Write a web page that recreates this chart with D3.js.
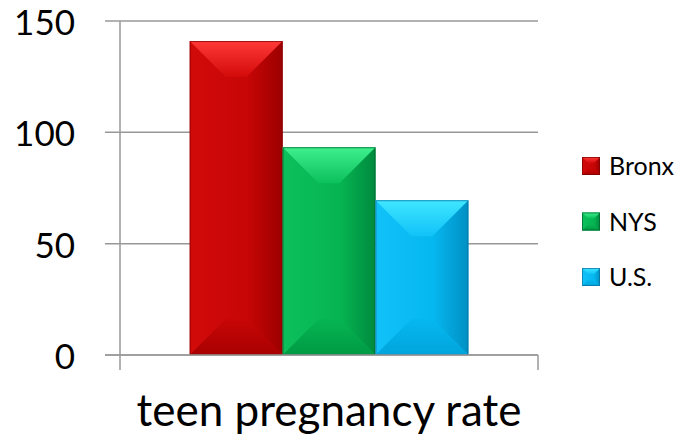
<!DOCTYPE html>
<html><head><meta charset="utf-8">
<script src="https://cdn.jsdelivr.net/npm/d3@7"></script>
<style>html,body{margin:0;padding:0;background:#fff}svg{display:block}</style>
</head><body>
<svg id="c" width="688" height="440"></svg>
<script>
const categories = ["teen pregnancy rate"];
const seriesNames = ["Bronx", "NYS", "U.S."];
const seriesValues = [141, 93.3, 69.5];
const yTicks = [0, 50, 100, 150];

const palette = {
  "Bronx": {main:"#c80606", light:"#ff3838", side:"#d20a0a", dark:"#a80000", edge:"#7a0000", right:"#9c0000"},
  "NYS":   {main:"#06b552", light:"#3ef08e", side:"#0cc05c", dark:"#009a44", edge:"#00602c", right:"#008a3e"},
  "U.S.":  {main:"#06b8f0", light:"#40e6ff", side:"#10c2f8", dark:"#00a4dc", edge:"#0a6e9e", right:"#0090c4"}
};

const svg = d3.select("#c");
const font = "Lato, 'Open Sans', sans-serif";
const L = 120, R = 538, T = 21, B = 355;

const y = d3.scaleLinear().domain([0,150]).range([B,T]);
const x0 = d3.scaleBand().domain(categories).range([L,R]).paddingInner(0).paddingOuter(0.25);
const x1 = d3.scaleBand().domain(seriesNames).range([0, x0.bandwidth()]).padding(0);

const defs = svg.append("defs");
seriesNames.forEach((s,i)=>{
  const c = palette[s];
  const gm = defs.append("linearGradient").attr("id","gm"+i).attr("x1",0).attr("x2",1).attr("y1",0).attr("y2",0);
  gm.append("stop").attr("offset","0").attr("stop-color",c.side);
  gm.append("stop").attr("offset","0.6").attr("stop-color",c.main);
  gm.append("stop").attr("offset","1").attr("stop-color",c.main);
  const gt = defs.append("linearGradient").attr("id","gt"+i).attr("x1",0).attr("x2",0).attr("y1",0).attr("y2",1);
  gt.append("stop").attr("offset","0").attr("stop-color",c.light);
  gt.append("stop").attr("offset","1").attr("stop-color",c.side);
  const gr = defs.append("linearGradient").attr("id","gr"+i).attr("x1",0).attr("x2",1).attr("y1",0).attr("y2",0);
  gr.append("stop").attr("offset","0").attr("stop-color",c.main);
  gr.append("stop").attr("offset","1").attr("stop-color",c.right);
  const gb = defs.append("linearGradient").attr("id","gb"+i).attr("x1",0).attr("x2",0).attr("y1",0).attr("y2",1);
  gb.append("stop").attr("offset","0").attr("stop-color",c.main);
  gb.append("stop").attr("offset","1").attr("stop-color",c.dark);
});

// gridlines
const grid = svg.append("g");
yTicks.forEach(t=>{
  grid.append("line").attr("x1",L-15).attr("x2",R).attr("y1",y(t)).attr("y2",y(t))
    .attr("stroke","#989898").attr("stroke-width",1.5);
});

// y axis line and end ticks
svg.append("line").attr("x1",L).attr("x2",L).attr("y1",y(150)).attr("y2",B+15)
  .attr("stroke","#989898").attr("stroke-width",1.5);
svg.append("line").attr("x1",R).attr("x2",R).attr("y1",B).attr("y2",B+15)
  .attr("stroke","#989898").attr("stroke-width",1.5);

// y tick labels
svg.append("g").selectAll("text").data(yTicks).join("text")
  .attr("x",75).attr("y",d=>y(d)+14).attr("text-anchor","end")
  .attr("font-family",font).attr("font-size",35).attr("fill","#000").text(d=>d);

function poly(pts){ return pts.map(p=>p.join(",")).join(" "); }

function bevelRect(g, xa, ya, w, h, d, i, s){
  const xb = xa + w, yb = ya + h;
  d = Math.min(d, w/2, h/2);
  g.append("rect").attr("x",xa).attr("y",ya).attr("width",w).attr("height",h).attr("fill","url(#gm"+i+")");
  g.append("polygon").attr("points",poly([[xb,ya],[xb,yb],[xb-d,yb-d],[xb-d,ya+d]])).attr("fill","url(#gr"+i+")");
  g.append("polygon").attr("points",poly([[xa,yb],[xb,yb],[xb-d,yb-d],[xa+d,yb-d]])).attr("fill","url(#gb"+i+")");
  g.append("polygon").attr("points",poly([[xa,ya],[xb,ya],[xb-d,ya+d],[xa+d,ya+d]])).attr("fill","url(#gt"+i+")");
  g.append("rect").attr("x",xa+0.5).attr("y",ya+0.5).attr("width",w-1).attr("height",h-1)
    .attr("fill","none").attr("stroke",palette[s].edge).attr("stroke-width",1).attr("stroke-opacity",0.7);
}

const bars = svg.append("g");
categories.forEach(cat=>{
  seriesNames.forEach((s,i)=>{
    const xa = x0(cat) + x1(s);
    const ya = y(seriesValues[i]);
    bevelRect(bars, xa, ya, x1.bandwidth(), y(0)-ya, 36, i, s);
  });
});

// x axis baseline on top
svg.append("line").attr("x1",L-15).attr("x2",R).attr("y1",B).attr("y2",B)
  .attr("stroke","#989898").attr("stroke-width",1.5);

// x category label
const xl = svg.append("g").selectAll("text").data(categories).join("text")
  .attr("x",d=>x0(d)+x0.bandwidth()/2).attr("y",426).attr("text-anchor","middle")
  .attr("font-family",font).attr("font-size",40).attr("fill","#000").text(d=>d);
xl.each(function(){
  const w = this.getComputedTextLength();
  if (w>0) d3.select(this).attr("font-size", Math.min(44, 40*390/w));
});

// legend
const lg = svg.append("g");
const legY = [166, 221.5, 277];
seriesNames.forEach((s,i)=>{
  bevelRect(lg, 582, legY[i]-9, 18, 18, 6, i, s);
  lg.append("text").attr("x",609).attr("y",legY[i]+9).attr("font-family",font)
    .attr("font-size",25).attr("fill","#000").text(s);
});
</script>
</body></html>
